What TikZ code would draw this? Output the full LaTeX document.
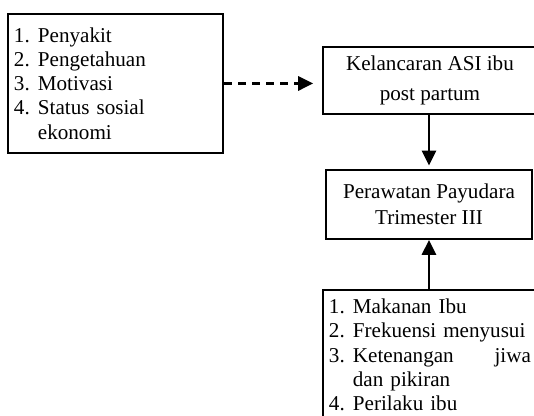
\documentclass[tikz,border=0pt]{standalone}
\usepackage{fontspec}
\setmainfont{Liberation Serif}
\usepackage{tikz}
\usetikzlibrary{arrows.meta}
\newcommand{\px}{0.568pt}
\newcommand{\nomor}[1]{\makebox[13.6pt][l]{#1}}

\begin{document}
\begin{tikzpicture}[x=0.568pt, y=-0.568pt,
  box/.style={draw, line width=1.1pt, inner sep=0pt, anchor=north west,
    font=\fontsize{12pt}{13.8pt}\selectfont},
  link/.style={line width=1.5pt, -{Triangle[length=8.5pt,width=8pt]}}]
\useasboundingbox (0,0) rectangle (534,416);
\clip (0,0) rectangle (534,416);
% kotak faktor kiri
\node[box, minimum width=215*\px, minimum height=139*\px,
  text width=203*\px, align=left] (faktor) at (7,13)
  {\nomor{1.}Penyakit\\ \nomor{2.}Pengetahuan\\ \nomor{3.}Motivasi\\
   \nomor{4.}Status sosial\\ \nomor{}ekonomi};
\node[box, minimum width=214*\px, minimum height=67*\px, align=center,
  font=\fontsize{12pt}{17pt}\selectfont] (kelancaran) at (322,46)
  {Kelancaran ASI ibu\\ post partum};
\node[box, minimum width=206*\px, minimum height=69*\px, align=center,
  font=\fontsize{12pt}{14.8pt}\selectfont] (perawatan) at (325,169)
  {Perawatan Payudara\\ Trimester III};
% kotak faktor bawah
\node[box, minimum width=214*\px, minimum height=130*\px,
  text width=202*\px, align=left] (pendukung) at (322,289)
  {\nomor{1.}Makanan Ibu\\ \nomor{2.}Frekuensi menyusui\\
   \nomor{3.}Ketenangan\hfill jiwa\\ \nomor{}dan pikiran\\ \nomor{4.}Perilaku ibu};
% panah
\draw[link, dash pattern=on 4.6pt off 3.4pt, shorten >=5pt]
  (faktor.east) -- (faktor.east -| kelancaran.west);
\draw[link, shorten >=2pt] (perawatan.north |- kelancaran.south) -- (perawatan.north);
\draw[link] (perawatan.south |- pendukung.north) -- (perawatan.south);
\end{tikzpicture}
\end{document}
